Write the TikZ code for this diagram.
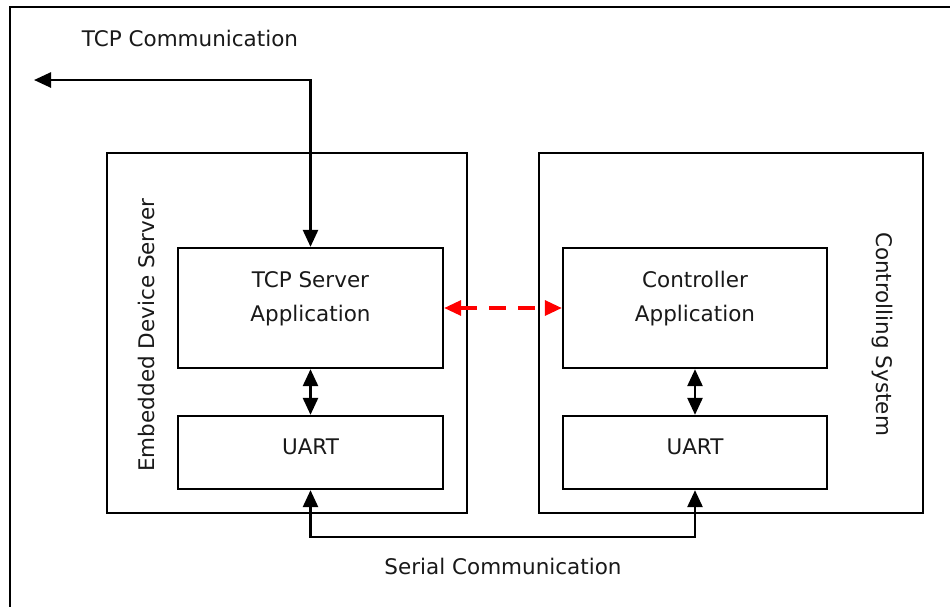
\documentclass[tikz,border=0pt]{standalone}
\usepackage{fontspec}
\setmainfont{DejaVu Sans}
\usetikzlibrary{arrows.meta}
\begin{document}
\begin{tikzpicture}[x=1pt,y=-1pt,
  box/.style={draw=black,line width=2.3pt,minimum width=#1,inner sep=0pt},
  txt/.style={font=\fontsize{21.5}{25}\selectfont,inner sep=0pt,text=black!90},
  conn/.style={draw=black,line width=2.6pt,{Triangle[length=17pt,width=15pt]}-{Triangle[length=17pt,width=15pt]}},
  reddash/.style={draw=red,line width=3.2pt,dash pattern=on 17pt off 12pt,{Triangle[length=17pt,width=15pt]}-{Triangle[length=17pt,width=15pt]}}]
\useasboundingbox (0,0) rectangle (950,606);
\fill[white] (0,0) rectangle (950,606);
% outer frame (cut by the page on the right and bottom)
\draw[line width=2.3pt] (10,620) -- (10,7) -- (960,7);
% big boxes
\node[box=360pt,minimum height=360pt] (eds) at (287,333) {};
\node[box=384pt,minimum height=360pt] (cs) at (731,333) {};
% inner boxes
\node[box=265pt,minimum height=120pt] (tcp) at (310.5,308) {};
\node[box=265pt,minimum height=73pt] (uartl) at (310.5,452.5) {};
\node[box=264pt,minimum height=120pt] (ctrl) at (695,308) {};
\node[box=264pt,minimum height=73pt] (uartr) at (695,452.5) {};
% texts
\node[txt,align=center] (tcptxt) at (310.5,299) {TCP Server\\[9pt]Application};
\node[txt,align=center] (ctrltxt) at (695,299) {Controller\\[9pt]Application};
\node[txt] (uartltxt) at (310.5,447) {UART};
\node[txt] (uartrtxt) at (695,447) {UART};
\node[txt] (tcpcom) at (190,38) {TCP Communication};
\node[txt] (sercom) at (503,566) {Serial Communication};
\node[txt,rotate=90] (edstxt) at (146,335) {Embedded Device Server};
\node[txt,rotate=-90] (cstxt) at (882,334) {Controlling System};
% connectors
\coordinate (tcpend) at (34,80);
\draw[conn] (tcpend) -- (tcp.north |- tcpend) -- (tcp.north);
\draw[conn] (tcp.south) -- (uartl.north);
\draw[conn] (ctrl.south) -- (uartr.north);
\coordinate (busy) at (0,537);
\draw[conn] (uartl.south) -- (uartl.south |- busy) -- (uartr.south |- busy) -- (uartr.south);
\draw[reddash] (tcp.east) -- (ctrl.west);
\end{tikzpicture}
\end{document}
